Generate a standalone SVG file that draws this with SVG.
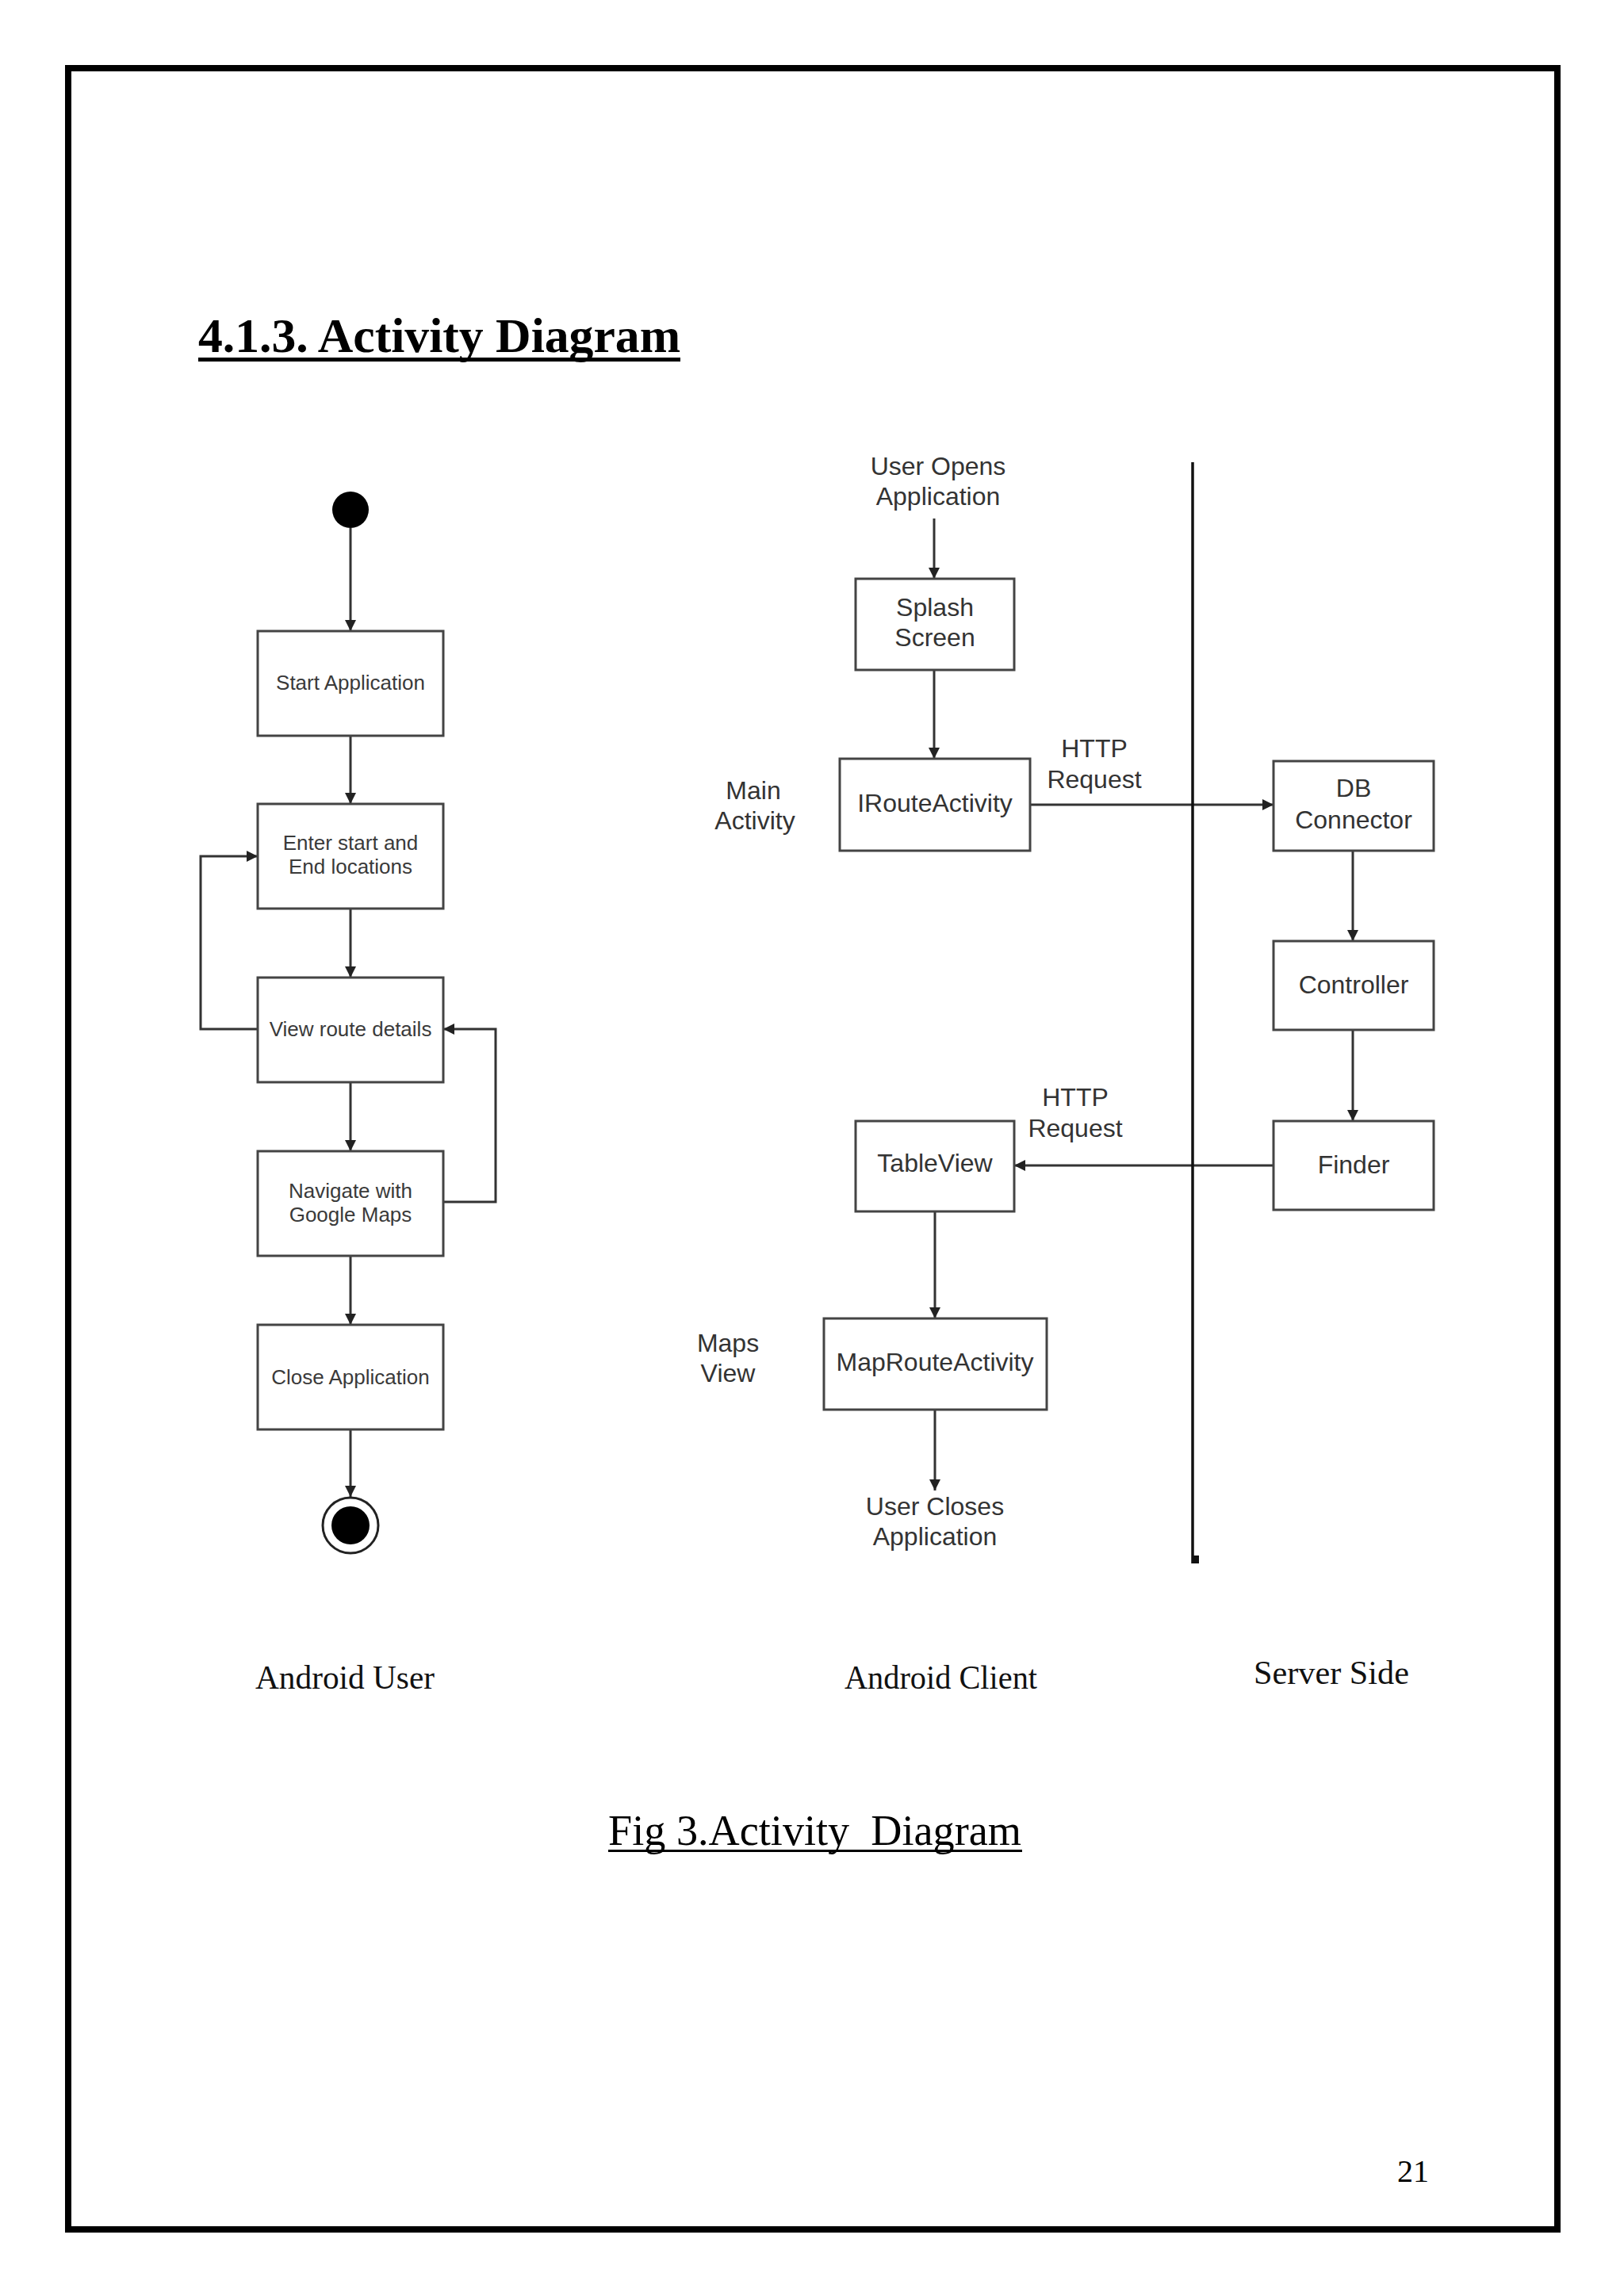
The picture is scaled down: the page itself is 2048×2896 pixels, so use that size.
<svg xmlns="http://www.w3.org/2000/svg" width="2048" height="2896" viewBox="0 0 2048 2896">
<style>
.box{fill:#fff;stroke:#444;stroke-width:3}
.lt{font-family:"Liberation Sans",Arial,sans-serif;font-size:26px;fill:#3a3a3a;text-anchor:middle}
.rt{font-family:"Liberation Sans",Arial,sans-serif;font-size:32px;fill:#333;text-anchor:middle}
.ln{fill:none;stroke:#333;stroke-width:3}
.lane{font-family:"Liberation Serif","Times New Roman",serif;font-size:42px;fill:#111}
</style>
<defs>
<marker id="ah" markerUnits="userSpaceOnUse" markerWidth="14" markerHeight="14" refX="14" refY="7" orient="auto">
<path d="M0,0 L14,7 L0,14 z" fill="#222"/>
</marker>
</defs>
<rect x="0" y="0" width="2048" height="2896" fill="#fff"/>
<rect x="86" y="86" width="1878" height="2726" fill="none" stroke="#000" stroke-width="8"/>
<text x="250" y="444" font-family="'Liberation Serif','Times New Roman',serif" font-weight="bold" font-size="62" textLength="608" lengthAdjust="spacingAndGlyphs">4.1.3. Activity Diagram</text>
<rect x="250" y="451" width="608" height="5" fill="#000"/>

<g id="connectors">
<line class="ln" x1="442" y1="666" x2="442" y2="796" marker-end="url(#ah)"/>
<line class="ln" x1="442" y1="928" x2="442" y2="1014" marker-end="url(#ah)"/>
<line class="ln" x1="442" y1="1146" x2="442" y2="1233" marker-end="url(#ah)"/>
<line class="ln" x1="442" y1="1365" x2="442" y2="1452" marker-end="url(#ah)"/>
<line class="ln" x1="442" y1="1584" x2="442" y2="1671" marker-end="url(#ah)"/>
<line class="ln" x1="442" y1="1803" x2="442" y2="1888" marker-end="url(#ah)"/>
<polyline class="ln" points="325,1298 253,1298 253,1080 325,1080" marker-end="url(#ah)"/>
<polyline class="ln" points="559,1516 625,1516 625,1298 559,1298" marker-end="url(#ah)"/>
<line class="ln" x1="1178" y1="654" x2="1178" y2="730" marker-end="url(#ah)"/>
<line class="ln" x1="1178" y1="845" x2="1178" y2="957" marker-end="url(#ah)"/>
<line class="ln" x1="1299" y1="1015" x2="1606" y2="1015" marker-end="url(#ah)"/>
<line class="ln" x1="1706" y1="1073" x2="1706" y2="1187" marker-end="url(#ah)"/>
<line class="ln" x1="1706" y1="1299" x2="1706" y2="1414" marker-end="url(#ah)"/>
<line class="ln" x1="1606" y1="1470" x2="1279" y2="1470" marker-end="url(#ah)"/>
<line class="ln" x1="1179" y1="1528" x2="1179" y2="1663" marker-end="url(#ah)"/>
<line class="ln" x1="1179" y1="1778" x2="1179" y2="1880" marker-end="url(#ah)"/>
</g>

<g id="swimlane">
<line x1="1504" y1="583" x2="1504" y2="1972" stroke="#111" stroke-width="3.5"/>
<rect x="1503" y="1962" width="9" height="10" fill="#111"/>
</g>

<g id="start"><circle cx="442" cy="643" r="23" fill="#000"/></g>
<g id="n-start-app"><rect class="box" x="325" y="796" width="234" height="132"/><text class="lt" x="442" y="870">Start Application</text></g>
<g id="n-enter"><rect class="box" x="325" y="1014" width="234" height="132"/><text class="lt" x="442" y="1072">Enter start and</text><text class="lt" x="442" y="1102">End locations</text></g>
<g id="n-view"><rect class="box" x="325" y="1233" width="234" height="132"/><text class="lt" x="442" y="1307">View route details</text></g>
<g id="n-navigate"><rect class="box" x="325" y="1452" width="234" height="132"/><text class="lt" x="442" y="1511">Navigate with</text><text class="lt" x="442" y="1541">Google Maps</text></g>
<g id="n-close"><rect class="box" x="325" y="1671" width="234" height="132"/><text class="lt" x="442" y="1746">Close Application</text></g>
<g id="end"><circle cx="442" cy="1924" r="35" fill="#fff" stroke="#222" stroke-width="3"/><circle cx="442" cy="1924" r="24" fill="#000"/></g>

<g id="l-user-opens"><text class="rt" x="1183" y="599">User Opens</text><text class="rt" x="1183" y="637">Application</text></g>
<g id="n-splash"><rect class="box" x="1079" y="730" width="200" height="115"/><text class="rt" x="1179" y="777">Splash</text><text class="rt" x="1179" y="815">Screen</text></g>
<g id="l-main"><text class="rt" x="950" y="1008">Main</text><text class="rt" x="952" y="1046">Activity</text></g>
<g id="n-iroute"><rect class="box" x="1059" y="957" width="240" height="116"/><text class="rt" x="1179" y="1024">IRouteActivity</text></g>
<g id="l-http1"><text class="rt" x="1380" y="955">HTTP</text><text class="rt" x="1380" y="994">Request</text></g>
<g id="n-db"><rect class="box" x="1606" y="960" width="202" height="113"/><text class="rt" x="1707" y="1005">DB</text><text class="rt" x="1707" y="1045">Connector</text></g>
<g id="n-controller"><rect class="box" x="1606" y="1187" width="202" height="112"/><text class="rt" x="1707" y="1253">Controller</text></g>
<g id="n-finder"><rect class="box" x="1606" y="1414" width="202" height="112"/><text class="rt" x="1707" y="1480">Finder</text></g>
<g id="l-http2"><text class="rt" x="1356" y="1395">HTTP</text><text class="rt" x="1356" y="1434">Request</text></g>
<g id="n-tableview"><rect class="box" x="1079" y="1414" width="200" height="114"/><text class="rt" x="1179" y="1478">TableView</text></g>
<g id="l-maps"><text class="rt" x="918" y="1705">Maps</text><text class="rt" x="918" y="1743">View</text></g>
<g id="n-maproute"><rect class="box" x="1039" y="1663" width="281" height="115"/><text class="rt" x="1179" y="1729">MapRouteActivity</text></g>
<g id="l-user-closes"><text class="rt" x="1179" y="1911">User Closes</text><text class="rt" x="1179" y="1949">Application</text></g>

<text class="lane" x="322" y="2130" textLength="226" lengthAdjust="spacingAndGlyphs">Android User</text>
<text class="lane" x="1065" y="2130" textLength="243" lengthAdjust="spacingAndGlyphs">Android Client</text>
<text class="lane" x="1581" y="2124" textLength="196" lengthAdjust="spacingAndGlyphs">Server Side</text>

<text x="767" y="2327" xml:space="preserve" font-family="'Liberation Serif','Times New Roman',serif" font-size="54" fill="#000" textLength="521" lengthAdjust="spacingAndGlyphs">Fig 3.Activity  Diagram</text>
<rect x="767" y="2333" width="522" height="3" fill="#000"/>
<text x="1762" y="2752" font-family="'Liberation Serif','Times New Roman',serif" font-size="40" fill="#000">21</text>
</svg>
